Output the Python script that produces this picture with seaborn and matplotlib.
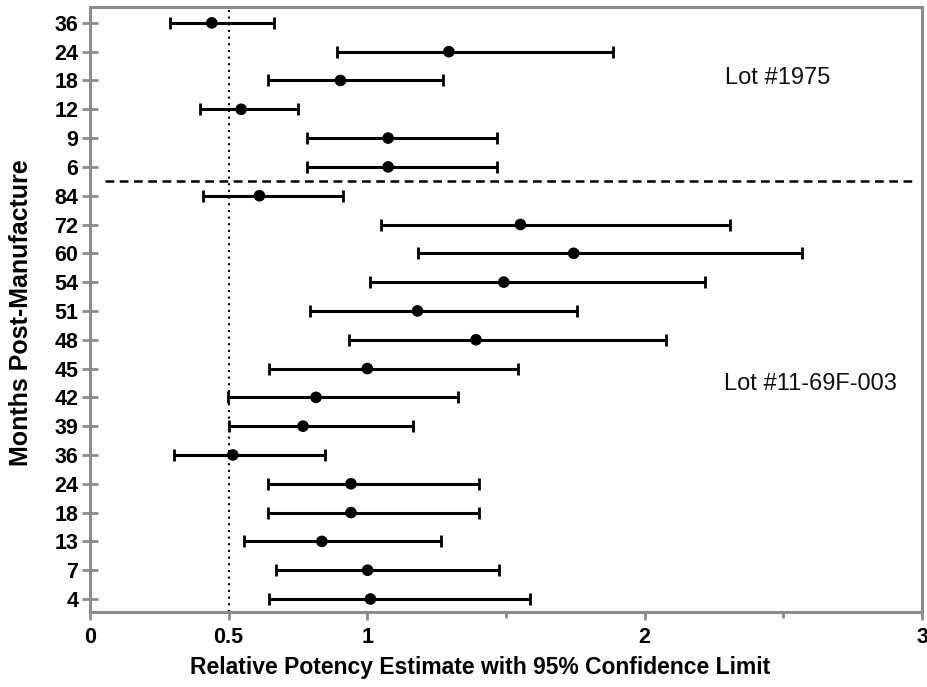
import matplotlib
matplotlib.use("Agg")
import matplotlib.pyplot as plt
import seaborn as sns
import pandas as pd
import numpy as np
from matplotlib.ticker import FixedLocator

# ---- data (top row to bottom row) ----
months = ["36", "24", "18", "12", "9", "6",
          "84", "72", "60", "54", "51", "48", "45", "42", "39", "36", "24", "18", "13", "7", "4"]
lots = ["Lot #1975"] * 6 + ["Lot #11-69F-003"] * 15
estimate = [0.439, 1.294, 0.903, 0.545, 1.075, 1.075,
            0.611, 1.552, 1.744, 1.492, 1.181, 1.392, 1.000, 0.815, 0.768, 0.515,
            0.941, 0.941, 0.836, 1.001, 1.011]
lower = [0.290, 0.890, 0.640, 0.395, 0.783, 0.783,
         0.408, 1.051, 1.181, 1.011, 0.795, 0.935, 0.647, 0.498, 0.502, 0.304,
         0.640, 0.640, 0.555, 0.671, 0.644]
upper = [0.662, 1.886, 1.273, 0.750, 1.469, 1.469,
         0.911, 2.306, 2.566, 2.217, 1.757, 2.076, 1.544, 1.326, 1.166, 0.848,
         1.403, 1.403, 1.264, 1.473, 1.585]
x_major = [0, 0.5, 1, 2, 3]
x_major_labels = ["0", "0.5", "1", "2", "3"]
x_minor = [1.5, 2.5]

n = len(months)
df = pd.DataFrame({
    "months": months,
    "lot": lots,
    "estimate": estimate,
    "lower": lower,
    "upper": upper,
})
df["pos"] = np.arange(n)[::-1]

sns.set_theme(style="white")
plt.rcParams["font.family"] = ["Liberation Sans", "DejaVu Sans"]

fig = plt.figure(figsize=(9.27, 6.87), dpi=100)
ax = fig.add_axes([0.0971, 0.1092, 0.8975, 0.8806])

spine_color = "#8c8c8c"

# reference lines
ax.axvline(0.5, color="black", linestyle=(0, (1, 2.2)), linewidth=1.5, zorder=1)
ax.axhline(14.5, xmin=0.018, xmax=0.992, color="black", linestyle=(0, (3.5, 2.2)),
           linewidth=1.8, zorder=1)

# confidence intervals
ax.errorbar(df["estimate"], df["pos"],
            xerr=[df["estimate"] - df["lower"], df["upper"] - df["estimate"]],
            fmt="none", ecolor="black", elinewidth=2.2, capsize=4.5, capthick=2, zorder=2)

# point estimates
sns.scatterplot(data=df, x="estimate", y="pos", color="black", s=70,
                edgecolor="none", ax=ax, zorder=3, legend=False)

ax.set_xlim(0, 3)
ax.set_ylim(-0.45, 20.55)

ax.set_yticks(df["pos"])
ax.set_yticklabels(df["months"], fontsize=15.5, fontweight="bold", color="black")
ax.xaxis.set_major_locator(FixedLocator(x_major))
ax.set_xticklabels(x_major_labels, fontsize=15.5, fontweight="bold", color="black")
ax.xaxis.set_minor_locator(FixedLocator(x_minor))

ax.tick_params(axis="y", which="major", direction="inout", length=11, width=2,
               color=spine_color, pad=3, left=True)
ax.tick_params(axis="x", which="major", direction="out", length=6, width=2,
               color=spine_color, pad=5, bottom=True)
ax.tick_params(axis="x", which="minor", direction="out", length=4, width=2,
               color=spine_color, bottom=True)

for sp in ax.spines.values():
    sp.set_color(spine_color)
    sp.set_linewidth(2.2)

ax.set_xlabel("Relative Potency Estimate with 95% Confidence Limit",
              fontsize=16.5, fontweight="bold", color="black")
ax.xaxis.set_label_coords(0.469, -0.073)
ax.set_ylabel("Months Post-Manufacture", fontsize=18, fontweight="bold",
              color="black")
ax.yaxis.set_label_coords(-0.069, 0.495)

# lot annotations
ax.text(2.48, 18.09, "Lot #1975", fontsize=17, ha="center", va="center", color="#111111")
ax.text(2.596, 7.47, "Lot #11-69F-003", fontsize=17, ha="center", va="center", color="#111111")

fig.savefig("out.png", dpi=100)
